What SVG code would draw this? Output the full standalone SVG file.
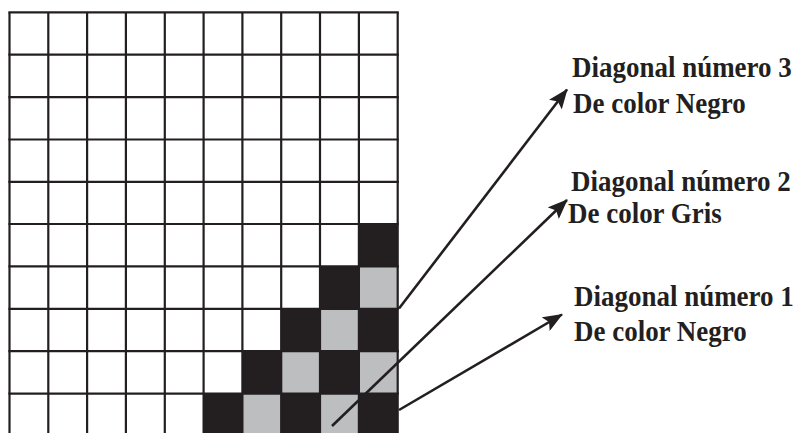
<svg xmlns="http://www.w3.org/2000/svg" width="798" height="433" viewBox="0 0 798 433">
<style>
.blk{fill:#231f20}
.gry{fill:#bcbec0}
.grid line{stroke:#231f20;stroke-width:2.2}
.lbl{font-family:"Liberation Serif","Times New Roman",serif;font-weight:bold;font-size:29px;fill:#231f20}
.conn{stroke:#231f20;stroke-width:2.6;fill:none;marker-end:url(#ah)}
</style>
<defs>
<marker id="ah" markerUnits="userSpaceOnUse" markerWidth="20" markerHeight="16" viewBox="0 0 20 16" refX="19" refY="8" orient="auto">
<path d="M0,0 L20,8 L0,16 L4,8 Z" fill="#231f20"/>
</marker>
</defs>
<rect width="798" height="433" fill="#ffffff"/>
<g id="grid">
<g id="cells">
<rect class="blk" x="358.9" y="224" width="38.8" height="42.4"/>
<rect class="blk" x="320" y="266.4" width="38.9" height="42.4"/>
<rect class="gry" x="358.9" y="266.4" width="38.8" height="42.4"/>
<rect class="blk" x="281.2" y="308.8" width="38.8" height="42.4"/>
<rect class="gry" x="320" y="308.8" width="38.9" height="42.4"/>
<rect class="blk" x="358.9" y="308.8" width="38.8" height="42.4"/>
<rect class="blk" x="242.4" y="351.2" width="38.8" height="42.4"/>
<rect class="gry" x="281.2" y="351.2" width="38.8" height="42.4"/>
<rect class="blk" x="320" y="351.2" width="38.9" height="42.4"/>
<rect class="gry" x="358.9" y="351.2" width="38.8" height="42.4"/>
<rect class="blk" x="203.6" y="393.6" width="38.8" height="42.4"/>
<rect class="gry" x="242.4" y="393.6" width="38.8" height="42.4"/>
<rect class="blk" x="281.2" y="393.6" width="38.8" height="42.4"/>
<rect class="gry" x="320" y="393.6" width="38.9" height="42.4"/>
<rect class="blk" x="358.9" y="393.6" width="38.8" height="42.4"/>
</g>
<g class="grid">
<line x1="9.5" y1="12.3" x2="9.5" y2="436"/>
<line x1="48.3" y1="12.3" x2="48.3" y2="436"/>
<line x1="87.1" y1="12.3" x2="87.1" y2="436"/>
<line x1="125.9" y1="12.3" x2="125.9" y2="436"/>
<line x1="164.8" y1="12.3" x2="164.8" y2="436"/>
<line x1="203.6" y1="12.3" x2="203.6" y2="436"/>
<line x1="242.4" y1="12.3" x2="242.4" y2="436"/>
<line x1="281.2" y1="12.3" x2="281.2" y2="436"/>
<line x1="320" y1="12.3" x2="320" y2="436"/>
<line x1="358.9" y1="12.3" x2="358.9" y2="436"/>
<line x1="397.7" y1="12.3" x2="397.7" y2="436"/>
<line x1="8.4" y1="12.3" x2="398.8" y2="12.3"/>
<line x1="8.4" y1="54.7" x2="398.8" y2="54.7"/>
<line x1="8.4" y1="97.1" x2="398.8" y2="97.1"/>
<line x1="8.4" y1="139.5" x2="398.8" y2="139.5"/>
<line x1="8.4" y1="181.8" x2="398.8" y2="181.8"/>
<line x1="8.4" y1="224" x2="398.8" y2="224"/>
<line x1="8.4" y1="266.4" x2="398.8" y2="266.4"/>
<line x1="8.4" y1="308.8" x2="398.8" y2="308.8"/>
<line x1="8.4" y1="351.2" x2="398.8" y2="351.2"/>
<line x1="8.4" y1="393.6" x2="398.8" y2="393.6"/>
</g>
</g>
<g id="connectors">
<line class="conn" x1="399" y1="308.5" x2="567" y2="89.5"/>
<line class="conn" x1="332" y1="426" x2="567" y2="200"/>
<line class="conn" x1="399" y1="410" x2="562" y2="314.5"/>
</g>
<g id="label3">
<text class="lbl" transform="translate(572,77) scale(0.93,1)">Diagonal número 3</text>
<text class="lbl" transform="translate(573,112.5) scale(0.93,1)">De color Negro</text>
</g>
<g id="label2">
<text class="lbl" transform="translate(571,191) scale(0.93,1)">Diagonal número 2</text>
<text class="lbl" transform="translate(568,223) scale(0.93,1)">De color Gris</text>
</g>
<g id="label1">
<text class="lbl" transform="translate(574,306) scale(0.93,1)">Diagonal número 1</text>
<text class="lbl" transform="translate(574,341) scale(0.93,1)">De color Negro</text>
</g>
</svg>
